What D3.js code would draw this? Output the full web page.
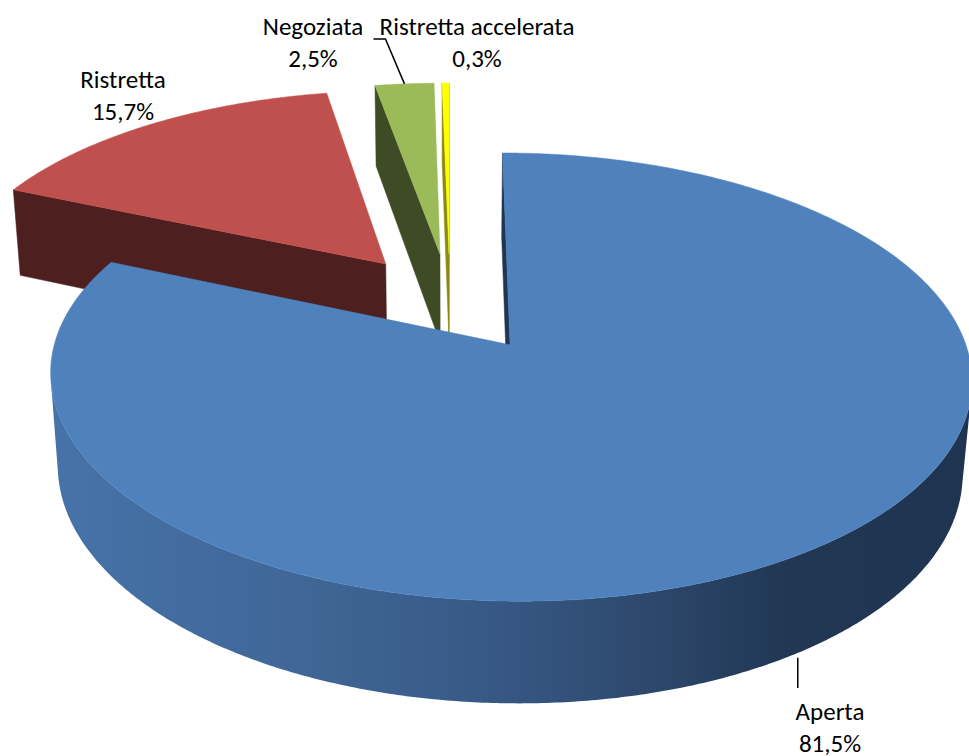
<!DOCTYPE html>
<html>
<head>
<meta charset="utf-8">
<script src="https://cdn.jsdelivr.net/npm/d3@7"></script>
<style>
  html, body { margin: 0; padding: 0; background: #fff; }
  svg { display: block; }
  text { font-family: Carlito, Lato, "Open Sans", sans-serif; font-size: 25px; fill: #000; }
</style>
</head>
<body>
<svg id="chart"></svg>
<script>
const categories = ["Aperta", "Ristretta", "Negoziata", "Ristretta accelerata"];
const values = [81.5, 15.7, 2.5, 0.3];
const topColors = ["#4f81bd", "#c0504d", "#9bbb59", "#ffff00"];
const sideColors = ["#1f3550", "#4e1f1f", "#3f4b24", "#8a8a12"];

const width = 969, height = 756;

// fake 3d camera, tuned by eye against the excel picture
const view = {
    cx: 450, cy: 302, k: 443,
    tilt: 27.9 * Math.PI / 180,
    dist: 6.31,
    thick: 0.235,
    explode: 0.24
};

// where the two text lines of each label sit (centre x, first baseline y)
const labelPos = {
    "Aperta": [830, 720],
    "Ristretta": [123, 88],
    "Negoziata": [313, 35],
    "Ristretta accelerata": [477, 35]
};
const lineGap = 32;

const svg = d3.select('#chart')
    .attr("width", width)
    .attr("height", height);

svg.append("rect").attr("width", width).attr("height", height).attr("fill", "#fff");

let defs = svg.append("defs");
let grad = defs.append("linearGradient")
    .attr("id", "blueSide")
    .attr("gradientUnits", "userSpaceOnUse")
    .attr("x1", 50).attr("y1", 0).attr("x2", 969).attr("y2", 0);
[[0, "#4673a9"], [0.3, "#3f6595"], [0.5, "#365783"], [0.68, "#2b4568"], [0.8, "#213754"], [1, "#1f3450"]]
    .forEach(s => grad.append("stop").attr("offset", s[0]).attr("stop-color", s[1]));

const sinT = Math.sin(view.tilt), cosT = Math.cos(view.tilt);
const cam = [0, view.dist * sinT, view.dist * cosT];

const proj = (p) => {
    let depth = view.dist - p[1] * sinT - p[2] * cosT;
    let f = view.dist / depth;
    let up = p[1] * cosT - p[2] * sinT;
    return [view.cx + view.k * p[0] * f, view.cy - view.k * up * f];
}

const pie = d3.pie().sort(null).value(d => d.value).startAngle(0).endAngle(2 * Math.PI);
const slices = pie(categories.map((c, i) => ({ name: c, value: values[i], i: i })));

const midOf = (s) => (s.startAngle + s.endAngle) / 2;
const offsetOf = (s) => {
    let m = midOf(s);
    return [view.explode * Math.sin(m), 0, -view.explode * Math.cos(m)];
}
const rim = (s, a, y) => {
    let o = offsetOf(s);
    return [o[0] + Math.sin(a), y, o[2] - Math.cos(a)];
}
const apex = (s, y) => {
    let o = offsetOf(s);
    return [o[0], y, o[2]];
}
const facing = (p, n) => {
    let v = [cam[0] - p[0], cam[1] - p[1], cam[2] - p[2]];
    return n[0] * v[0] + n[1] * v[1] + n[2] * v[2] > 0;
}

const line = d3.line();
const poly = (pts) => line(pts.map(proj)) + "Z";

const h = -view.thick;
let g = svg.append("g");

// farthest slice first
let order = slices.slice().sort((a, b) => offsetOf(a)[2] - offsetOf(b)[2]);

order.forEach(s => {
    let i = s.data.i;
    let a0 = s.startAngle, a1 = s.endAngle;
    let sg = g.append("g").attr("class", "slice");

    // cut faces
    let cuts = [
        { a: a0, n: [-Math.cos(a0), 0, -Math.sin(a0)] },
        { a: a1, n: [Math.cos(a1), 0, Math.sin(a1)] }
    ];
    cuts.forEach(c => {
        let mid = rim(s, c.a, h / 2).map((v, j) => (v + apex(s, h / 2)[j]) / 2);
        if (!facing(mid, c.n)) return;
        sg.append("path")
            .attr("d", poly([apex(s, 0), rim(s, c.a, 0), rim(s, c.a, h), apex(s, h)]))
            .attr("fill", sideColors[i])
            .attr("stroke", sideColors[i])
            .attr("stroke-width", 0.5);
    });

    // outer wall, only the runs that look at the camera
    let steps = Math.max(2, Math.ceil((a1 - a0) / (0.5 * Math.PI / 180)));
    let angles = d3.range(steps + 1).map(k => a0 + (a1 - a0) * k / steps);
    let runs = [], cur = [];
    angles.forEach(a => {
        let n = [Math.sin(a), 0, -Math.cos(a)];
        if (facing(rim(s, a, h / 2), n)) cur.push(a);
        else if (cur.length) { runs.push(cur); cur = []; }
    });
    if (cur.length) runs.push(cur);
    runs.forEach(r => {
        if (r.length < 2) return;
        let pts = r.map(a => rim(s, a, 0)).concat(r.slice().reverse().map(a => rim(s, a, h)));
        sg.append("path")
            .attr("d", poly(pts))
            .attr("fill", i == 0 ? "url(#blueSide)" : sideColors[i]);
    });

    // top face
    let topPts = [apex(s, 0)].concat(angles.map(a => rim(s, a, 0)));
    sg.append("path")
        .attr("d", poly(topPts))
        .attr("fill", topColors[i])
        .attr("stroke", topColors[i])
        .attr("stroke-width", 0.5);
});

// labels
const fmt = (v) => d3.format(".1f")(v).replace(".", ",") + "%";

let labels = svg.append("g");
slices.forEach(s => {
    let name = s.data.name;
    let pos = labelPos[name];
    let t = labels.append("text")
        .attr("x", pos[0])
        .attr("y", pos[1])
        .attr("text-anchor", "middle");
    t.append("tspan").attr("x", pos[0]).attr("y", pos[1]).text(name);
    t.append("tspan").attr("x", pos[0]).attr("y", pos[1] + lineGap).text(fmt(s.data.value));
});

// leader lines
let aperta = slices[0];
let pA = proj(rim(aperta, midOf(aperta), h));
labels.append("path")
    .attr("d", line([[pA[0] + 2, pA[1] + 4], [pA[0] + 2, labelPos["Aperta"][1] - 32]]))
    .attr("fill", "none").attr("stroke", "#000").attr("stroke-width", 1.5);

let neg = slices[2];
let pN = proj(rim(neg, midOf(neg), 0));
labels.append("path")
    .attr("d", line([pN, [pN[0] - 19, labelPos["Negoziata"][1] + 4], [pN[0] - 31, labelPos["Negoziata"][1] + 4]]))
    .attr("fill", "none").attr("stroke", "#000").attr("stroke-width", 1.5);
</script>
</body>
</html>
